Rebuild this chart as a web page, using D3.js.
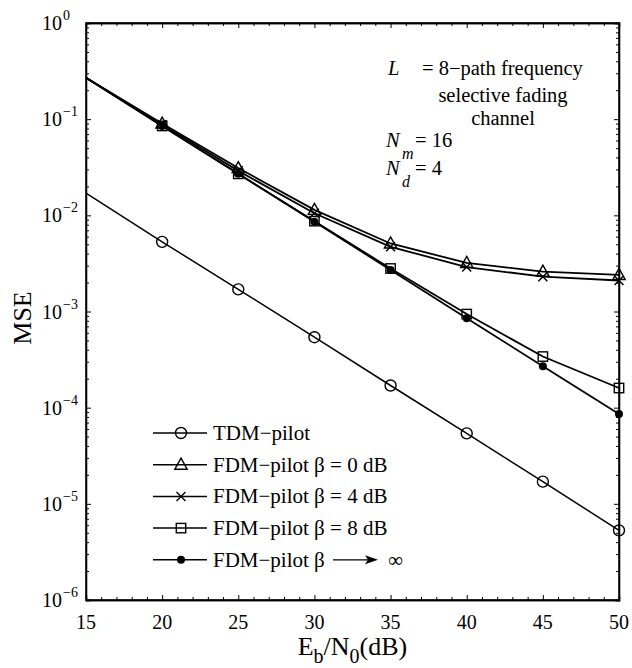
<!DOCTYPE html>
<html>
<head>
<meta charset="utf-8">
<script src="https://cdn.jsdelivr.net/npm/d3@7"></script>
<style>
  body { margin: 0; background: #fff; }
  text { font-family: "Liberation Serif", "Times New Roman", Times, serif; fill: #000; }
</style>
</head>
<body>
<script>
// Eb/N0 points (dB); the first one (15) has no marker
const snr = [15, 20, 25, 30, 35, 40, 45, 50]

const tdm    = [0.0170, 0.0053, 0.00170, 0.00054, 0.000170, 0.000054, 0.000017, 0.0000053]
const fdm0   = [0.270, 0.090, 0.031, 0.0114, 0.0051, 0.0032, 0.0026, 0.0024]
const fdm4   = [0.270, 0.088, 0.029, 0.0105, 0.0047, 0.0029, 0.0023, 0.0021]
const fdm8   = [0.270, 0.085, 0.027, 0.0087, 0.0028, 0.00094, 0.00034, 0.00016]
const fdmInf = [0.270, 0.085, 0.027, 0.0086, 0.0027, 0.00085, 0.00027, 0.000086]

const legendLabels = ['TDM\u2212pilot', 'FDM\u2212pilot \u03b2 = 0 dB', 'FDM\u2212pilot \u03b2 = 4 dB',
                      'FDM\u2212pilot \u03b2 = 8 dB', 'FDM\u2212pilot \u03b2']
const xTicks = [15, 20, 25, 30, 35, 40, 45, 50]
const yExps = [0, -1, -2, -3, -4, -5, -6]

const series = [
    {name: legendLabels[0], values: tdm, marker: 'circle', lw: 1.5},
    {name: legendLabels[1], values: fdm0, marker: 'triangle', lw: 1.8},
    {name: legendLabels[2], values: fdm4, marker: 'cross', lw: 1.8},
    {name: legendLabels[3], values: fdm8, marker: 'square', lw: 1.8},
    {name: legendLabels[4], values: fdmInf, marker: 'dot', lw: 1.8}
]

const W = 632, H = 668
const margin = {top: 23, right: 13, bottom: 68, left: 86}
const width = W - margin.left - margin.right
const height = H - margin.top - margin.bottom

const svg = d3.select('body').append('svg')
    .attr('width', W).attr('height', H)

const g = svg.append('g').attr('transform', `translate(${margin.left},${margin.top})`)

const x = d3.scaleLinear().domain([15, 50]).range([0, width])
const y = d3.scaleLog().domain([1e-6, 1]).range([height, 0])

// minor ticks
const xMinor = d3.range(15, 51, 1).filter(v => v % 5 !== 0)
const yMinor = []
yExps.slice(1).forEach(e => { for (let k = 2; k <= 9; k++) yMinor.push(k * Math.pow(10, e)) })

function tickAxis(axis, size) {
    return axis.tickSize(size).tickFormat('')
}

// inward ticks on all four sides (MATLAB style box)
g.append('g').attr('transform', `translate(0,${height})`)
    .call(tickAxis(d3.axisTop(x).tickValues(xTicks), 5))
g.append('g').attr('transform', `translate(0,${height})`)
    .call(tickAxis(d3.axisTop(x).tickValues(xMinor), 3))
g.append('g')
    .call(tickAxis(d3.axisBottom(x).tickValues(xTicks), 5))
g.append('g')
    .call(tickAxis(d3.axisBottom(x).tickValues(xMinor), 3))
g.append('g')
    .call(tickAxis(d3.axisRight(y).tickValues(yExps.map(e => Math.pow(10, e))), 5))
g.append('g')
    .call(tickAxis(d3.axisRight(y).tickValues(yMinor), 3))
g.append('g').attr('transform', `translate(${width},0)`)
    .call(tickAxis(d3.axisLeft(y).tickValues(yExps.map(e => Math.pow(10, e))), 5))
g.append('g').attr('transform', `translate(${width},0)`)
    .call(tickAxis(d3.axisLeft(y).tickValues(yMinor), 3))

g.selectAll('.domain').attr('stroke', '#000').attr('stroke-width', 1.3)
g.selectAll('.tick line').attr('stroke', '#000').attr('stroke-width', 1)

g.append('rect').attr('width', width).attr('height', height)
    .attr('fill', 'none').attr('stroke', '#000').attr('stroke-width', 1.5)

// tick labels
g.selectAll('.xlab').data(xTicks).enter().append('text')
    .attr('x', d => x(d)).attr('y', height + 29)
    .attr('text-anchor', 'middle').attr('font-size', 20)
    .text(d => d)

const yl = g.selectAll('.ylab').data(yExps).enter().append('text')
    .attr('y', d => y(Math.pow(10, d)) + 7)
    .attr('font-size', 20)
yl.append('tspan').attr('x', -44).text('10')
yl.append('tspan').attr('x', -23).attr('dy', -10).attr('font-size', 14)
    .text(d => d === 0 ? '0' : '\u2212' + (-d))

// axis titles
const xt = svg.append('text')
    .attr('x', margin.left + width / 2).attr('y', 655)
    .attr('text-anchor', 'middle').attr('font-size', 26)
xt.append('tspan').text('E')
xt.append('tspan').attr('dy', 8).attr('font-size', 20).text('b')
xt.append('tspan').attr('dy', -8).text('/N')
xt.append('tspan').attr('dy', 8).attr('font-size', 20).text('0')
xt.append('tspan').attr('dy', -8).text('(dB)')

svg.append('text')
    .attr('transform', 'translate(31,318) rotate(-90)')
    .attr('text-anchor', 'middle').attr('font-size', 26)
    .text('MSE')

// markers
function drawMarker(sel, type, cx, cy) {
    if (type === 'circle') {
        sel.append('circle').attr('cx', cx).attr('cy', cy).attr('r', 5.5)
            .attr('fill', 'none').attr('stroke', '#000').attr('stroke-width', 1.4)
    } else if (type === 'triangle') {
        const s = 6.5
        sel.append('path')
            .attr('d', `M${cx},${cy - s}L${cx + s * 0.95},${cy + s * 0.7}L${cx - s * 0.95},${cy + s * 0.7}Z`)
            .attr('fill', 'none').attr('stroke', '#000').attr('stroke-width', 1.4)
    } else if (type === 'cross') {
        const s = 4.5
        sel.append('path')
            .attr('d', `M${cx - s},${cy - s}L${cx + s},${cy + s}M${cx - s},${cy + s}L${cx + s},${cy - s}`)
            .attr('stroke', '#000').attr('stroke-width', 1.4)
    } else if (type === 'square') {
        const s = 4.7
        sel.append('rect').attr('x', cx - s).attr('y', cy - s)
            .attr('width', 2 * s).attr('height', 2 * s)
            .attr('fill', 'none').attr('stroke', '#000').attr('stroke-width', 1.4)
    } else if (type === 'dot') {
        sel.append('circle').attr('cx', cx).attr('cy', cy).attr('r', 4)
            .attr('fill', '#000')
    }
}

const line = d3.line().x((d, i) => x(snr[i])).y(d => y(d))

series.forEach(s => {
    g.append('path').datum(s.values)
        .attr('d', line)
        .attr('fill', 'none').attr('stroke', '#000').attr('stroke-width', s.lw)
    const mg = g.append('g')
    s.values.forEach((v, i) => {
        if (i > 0) drawMarker(mg, s.marker, x(snr[i]), y(v))
    })
})

// legend
const leg = svg.append('g')
series.forEach((s, i) => {
    const ly = 433 + i * 31.7
    leg.append('line').attr('x1', 153).attr('x2', 207).attr('y1', ly).attr('y2', ly)
        .attr('stroke', '#000').attr('stroke-width', 1.5)
    drawMarker(leg, s.marker, 181, ly)
    leg.append('text').attr('x', 213).attr('y', ly + 7).attr('font-size', 21)
        .text(s.name)
})
// arrow to infinity on the last row
const ay = 433 + 4 * 31.7
leg.append('line').attr('x1', 333).attr('x2', 372).attr('y1', ay).attr('y2', ay)
    .attr('stroke', '#000').attr('stroke-width', 1.2)
leg.append('path').attr('d', `M378,${ay}L365,${ay - 4.5}L368,${ay}L365,${ay + 4.5}Z`).attr('fill', '#000')
leg.append('text').attr('x', 388).attr('y', ay + 7).attr('font-size', 21).text('\u221e')

// annotation
const ann = svg.append('g').attr('font-size', 20.5)
ann.append('text').attr('x', 388).attr('y', 75).attr('font-style', 'italic').text('L')
ann.append('text').attr('x', 422).attr('y', 75).text('= 8\u2212path frequency')
ann.append('text').attr('x', 503).attr('y', 102).attr('text-anchor', 'middle').text('selective fading')
ann.append('text').attr('x', 503).attr('y', 125).attr('text-anchor', 'middle').text('channel')
ann.append('text').attr('x', 386).attr('y', 147).attr('font-style', 'italic').text('N')
ann.append('text').attr('x', 402).attr('y', 159).attr('font-style', 'italic').attr('font-size', 16).text('m')
ann.append('text').attr('x', 415).attr('y', 147).text('= 16')
ann.append('text').attr('x', 386).attr('y', 175).attr('font-style', 'italic').text('N')
ann.append('text').attr('x', 402).attr('y', 187).attr('font-style', 'italic').attr('font-size', 16).text('d')
ann.append('text').attr('x', 415).attr('y', 175).text('= 4')
</script>
</body>
</html>
